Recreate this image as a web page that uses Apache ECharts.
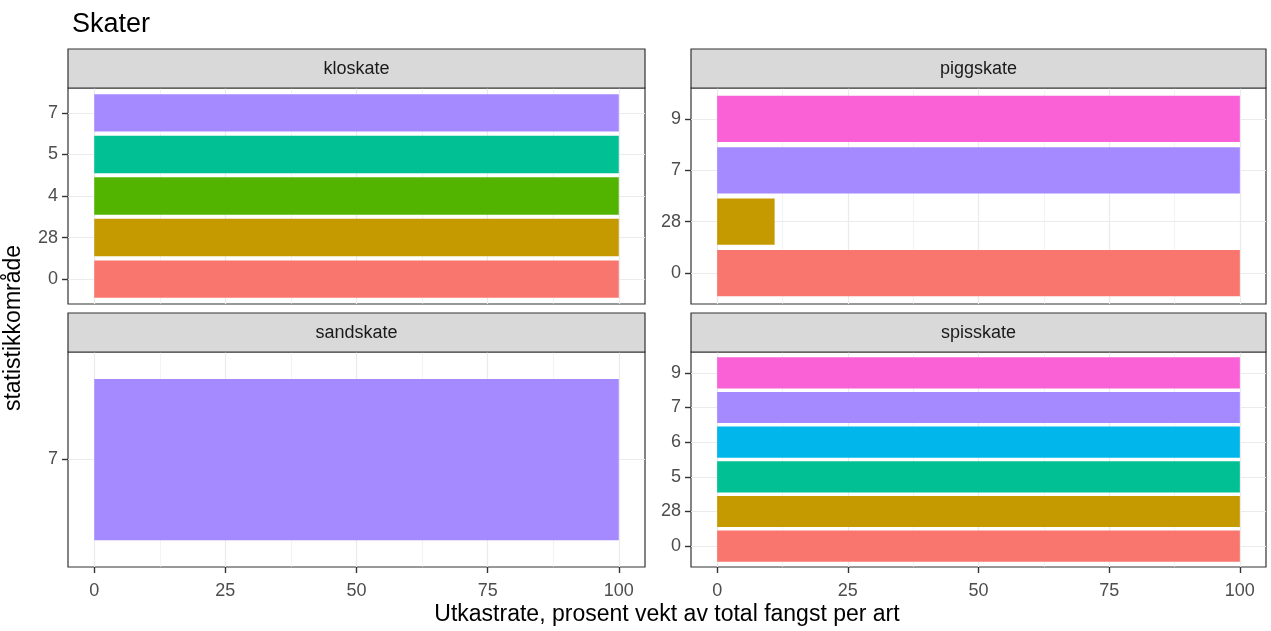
<!DOCTYPE html>
<html>
<head>
<meta charset="utf-8">
<script src="https://cdn.jsdelivr.net/npm/echarts@6/dist/echarts.min.js"></script>
<style>
  html, body { margin: 0; padding: 0; background: #fff; }
  #chart { width: 1271px; height: 631px; }
</style>
</head>
<body>
<div id="chart"></div>
<script>
// data
var tittel = 'Skater';
var xTittel = 'Utkastrate, prosent vekt av total fangst per art';
var yTittel = 'statistikkområde';

var paneler = ['kloskate', 'piggskate', 'sandskate', 'spisskate'];

var kloskateOmr = ['0', '28', '4', '5', '7'];
var kloskateVerdi = [100, 100, 100, 100, 100];

var piggskateOmr = ['0', '28', '7', '9'];
var piggskateVerdi = [100, 11, 100, 100];

var sandskateOmr = ['7'];
var sandskateVerdi = [100];

var spisskateOmr = ['0', '28', '5', '6', '7', '9'];
var spisskateVerdi = [100, 100, 100, 100, 100, 100];

var fargeOmr = ['0', '28', '4', '5', '6', '7', '9'];
var farger = ['#F8766D', '#C49A00', '#53B400', '#00C094', '#00B6EB', '#A58AFF', '#FB61D7'];

var xTicks = [0, 25, 50, 75, 100];
var xMinor = [12.5, 37.5, 62.5, 87.5];

var omrader = [kloskateOmr, piggskateOmr, sandskateOmr, spisskateOmr];
var verdier = [kloskateVerdi, piggskateVerdi, sandskateVerdi, spisskateVerdi];

// plassering av panelene (plottflate, uten stripe)
var bokser = [
    {left: 68, top: 88, width: 577, height: 216, bunn: false},
    {left: 691, top: 88, width: 575, height: 216, bunn: false},
    {left: 68, top: 352, width: 577, height: 215, bunn: true},
    {left: 691, top: 352, width: 575, height: 215, bunn: true}
];
var stripHoyde = 39;

var font = 'Liberation Sans, Arial, sans-serif';

var grids = [], xAxes = [], yAxes = [], series = [], graphics = [];

paneler.forEach(function (navn, i) {
    var b = bokser[i];
    var omr = omrader[i];
    var n = omr.length;
    var band = b.height / (n + 0.2);
    var idx = omr.map(function (d, k) { return k; });

    // ytre grid: ramme + rutenett + akser
    grids.push({
        left: b.left, top: b.top, width: b.width, height: b.height,
        show: true, borderColor: '#333333', borderWidth: 1.2, backgroundColor: '#ffffff'
    });
    // indre grid: stolper (ggplot diskret utvidelse 0.6)
    grids.push({
        left: b.left, top: b.top + 0.1 * band, width: b.width, height: n * band
    });

    var gOut = 2 * i, gIn = 2 * i + 1;

    xAxes.push({
        type: 'value', gridIndex: gOut, min: -5, max: 105, position: 'bottom',
        axisLine: {show: false, onZero: false},
        axisTick: {show: b.bunn, customValues: xTicks, length: 6, lineStyle: {color: '#333333', width: 1.4}},
        axisLabel: {show: b.bunn, customValues: xTicks, color: '#4D4D4D', fontSize: 18, fontFamily: font, margin: 15},
        splitLine: {show: true, lineStyle: {color: '#EBEBEB', width: 1.2}}
    });
    xAxes.push({
        type: 'value', gridIndex: gOut, min: -5, max: 105, position: 'top',
        axisLine: {show: false, onZero: false},
        axisTick: {show: false, customValues: xMinor},
        axisLabel: {show: false, customValues: xMinor},
        splitLine: {show: true, lineStyle: {color: '#EBEBEB', width: 0.6}}
    });
    xAxes.push({
        type: 'value', gridIndex: gIn, min: -5, max: 105, show: false,
        axisLine: {onZero: false}
    });

    yAxes.push({
        type: 'value', gridIndex: gOut, min: -0.6, max: n - 0.4,
        axisLine: {show: false, onZero: false},
        axisTick: {show: true, customValues: idx, length: 6, lineStyle: {color: '#333333', width: 1.4}},
        axisLabel: {
            show: true, customValues: idx, color: '#4D4D4D', fontSize: 18, fontFamily: font, margin: 10,
            padding: [4, 0, 0, 0],
            formatter: function (v) { return omr[Math.round(v)]; }
        },
        splitLine: {show: true, lineStyle: {color: '#EBEBEB', width: 1.2}}
    });
    yAxes.push({
        type: 'category', gridIndex: gIn, data: omr, show: false,
        axisLine: {onZero: false}
    });

    series.push({
        type: 'bar',
        xAxisIndex: 3 * i + 2,
        yAxisIndex: 2 * i + 1,
        barWidth: '90%',
        silent: true,
        data: verdier[i].map(function (v, k) {
            return {value: v, itemStyle: {color: farger[fargeOmr.indexOf(omr[k])]}};
        })
    });

    // stripe
    graphics.push({
        type: 'rect',
        shape: {x: b.left, y: b.top - stripHoyde, width: b.width, height: stripHoyde},
        style: {fill: '#D9D9D9', stroke: '#333333', lineWidth: 1.2},
        z: 10
    });
    graphics.push({
        type: 'text',
        x: b.left + b.width / 2, y: b.top - stripHoyde / 2 + 1,
        style: {text: navn, fill: '#1A1A1A', fontSize: 18, fontFamily: font, align: 'center', verticalAlign: 'middle'},
        z: 11
    });
});

graphics.push({
    type: 'text', x: 667, y: 615,
    style: {text: xTittel, fill: '#000000', fontSize: 23, fontFamily: font, align: 'center', verticalAlign: 'middle'}
});
graphics.push({
    type: 'text', x: 14, y: 328, rotation: Math.PI / 2,
    style: {text: yTittel, fill: '#000000', fontSize: 23, fontFamily: font, align: 'center', verticalAlign: 'middle'}
});

var myChart = echarts.init(document.getElementById('chart'), null, {renderer: 'canvas'});
myChart.setOption({
    animation: false,
    backgroundColor: '#ffffff',
    title: {
        text: tittel, left: 67, top: 6,
        textStyle: {fontSize: 27, fontWeight: 'normal', color: '#000000', fontFamily: font}
    },
    grid: grids,
    xAxis: xAxes,
    yAxis: yAxes,
    series: series,
    graphic: graphics
});
</script>
</body>
</html>
